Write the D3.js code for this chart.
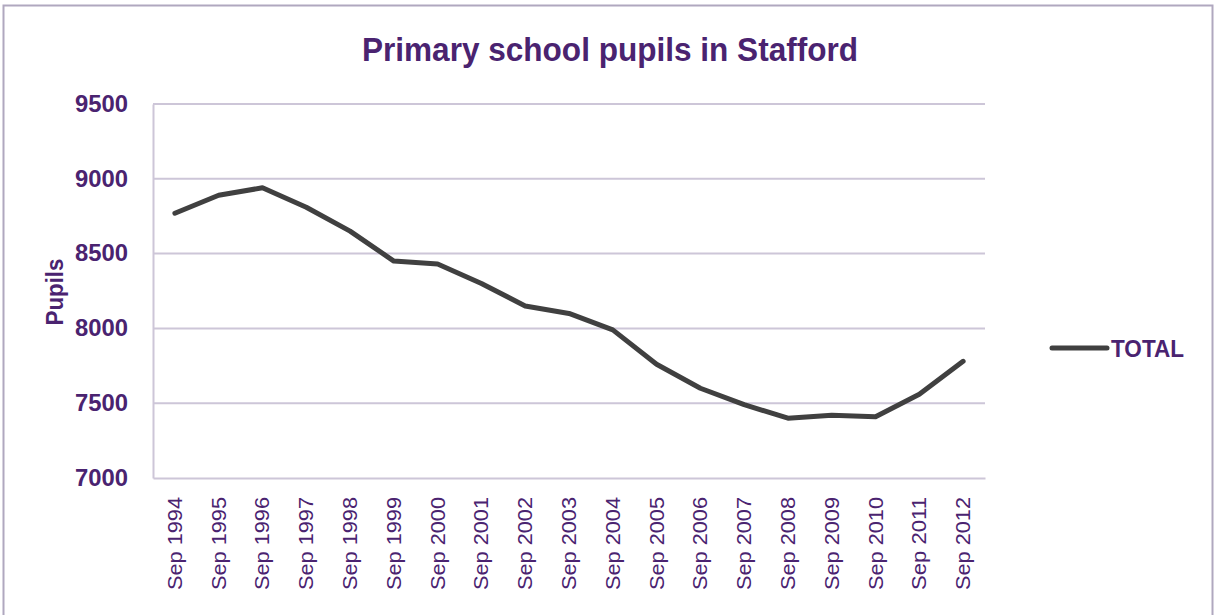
<!DOCTYPE html>
<html><head><meta charset="utf-8">
<script src="https://cdn.jsdelivr.net/npm/d3@7"></script>
<style>body{margin:0;background:#fff;}svg{display:block;}</style>
</head><body>
<svg id="c" width="1217" height="615"></svg>
<script>
const categories = ["Sep 1994","Sep 1995","Sep 1996","Sep 1997","Sep 1998","Sep 1999","Sep 2000","Sep 2001","Sep 2002","Sep 2003","Sep 2004","Sep 2005","Sep 2006","Sep 2007","Sep 2008","Sep 2009","Sep 2010","Sep 2011","Sep 2012"];
const totalValues = [8770,8890,8940,8810,8650,8450,8430,8300,8150,8100,7990,7760,7600,7490,7400,7420,7410,7560,7780];
const yTicks = [7000,7500,8000,8500,9000,9500];
const title = "Primary school pupils in Stafford";
const yTitle = "Pupils";
const seriesName = "TOTAL";

const svg = d3.select("#c");
const purple = "#4a2370";
const grid = "#cdc6d8";
const sans = "'Liberation Sans',Arial,sans-serif";

svg.append("rect").attr("x",3.5).attr("y",5.5).attr("width",1209).attr("height",640)
  .attr("fill","#fff").attr("stroke","#b0a8bf").attr("stroke-width",2);

const m = {l:153, r:985, t:104, b:478};
const x = d3.scaleBand().domain(categories).range([m.l,m.r]);
const y = d3.scaleLinear().domain([7000,9500]).range([m.b,m.t]);

svg.append("g").selectAll("line").data(yTicks.filter(d=>d>7000)).join("line")
  .attr("x1",m.l).attr("x2",m.r).attr("y1",d=>y(d)).attr("y2",d=>y(d))
  .attr("stroke",grid).attr("stroke-width",2);

const yAxis = svg.append("g").attr("transform",`translate(${m.l},0)`)
  .call(d3.axisLeft(y).tickValues(yTicks).tickFormat(d3.format("d")).tickSize(0).tickPadding(25));
yAxis.select(".domain").attr("stroke",grid).attr("stroke-width",2);
yAxis.selectAll("text").attr("fill",purple).attr("font-family",sans)
  .attr("font-weight","bold").attr("font-size",23)
  .attr("textLength",53).attr("lengthAdjust","spacingAndGlyphs");

const xAxis = svg.append("g").attr("transform",`translate(0,${m.b})`)
  .call(d3.axisBottom(x).tickSize(0).tickPadding(0));
xAxis.select(".domain").attr("stroke",grid).attr("stroke-width",2);
xAxis.selectAll("text").attr("fill",purple).attr("font-family",sans)
  .attr("font-size",20).attr("text-anchor","end")
  .attr("transform","translate(0,19) rotate(-90)").attr("dx",0).attr("dy","0.35em").attr("y",0).attr("x",0)
  .attr("textLength",93).attr("lengthAdjust","spacingAndGlyphs");

const line = d3.line().x((d,i)=>x(categories[i])+x.bandwidth()/2).y(d=>y(d));
svg.append("path").datum(totalValues).attr("d",line).attr("fill","none")
  .attr("stroke","#404040").attr("stroke-width",5).attr("stroke-linejoin","round").attr("stroke-linecap","round");

svg.append("text").attr("x",610).attr("y",61).attr("text-anchor","middle")
  .attr("font-family",sans).attr("font-size",34).attr("fill",purple).attr("font-weight","bold")
  .attr("textLength",496).attr("lengthAdjust","spacingAndGlyphs").text(title);

svg.append("text").attr("transform","translate(63,292) rotate(-90)").attr("text-anchor","middle")
  .attr("font-family",sans).attr("font-weight","bold").attr("font-size",24).attr("fill",purple)
  .attr("textLength",67).attr("lengthAdjust","spacingAndGlyphs").text(yTitle);

svg.append("line").attr("x1",1052).attr("x2",1107).attr("y1",348).attr("y2",348)
  .attr("stroke","#404040").attr("stroke-width",5).attr("stroke-linecap","round");
svg.append("text").attr("x",1111).attr("y",357).attr("font-family",sans).attr("font-weight","bold")
  .attr("font-size",24).attr("fill",purple)
  .attr("textLength",73).attr("lengthAdjust","spacingAndGlyphs").text(seriesName);
</script>
</body></html>
